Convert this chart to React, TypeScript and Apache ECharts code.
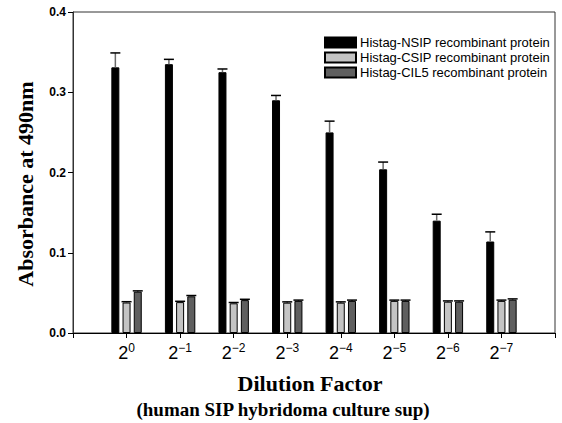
import React, { useEffect, useRef } from 'react';
import * as echarts from 'echarts';

// Data
const exponents = ['0', '−1', '−2', '−3', '−4', '−5', '−6', '−7'];
const seriesNames = [
  'Histag-NSIP recombinant protein',
  'Histag-CSIP recombinant protein',
  'Histag-CIL5 recombinant protein',
];
const nsip = [0.331, 0.335, 0.325, 0.29, 0.25, 0.204, 0.14, 0.114];
const nsipErr = [0.018, 0.006, 0.004, 0.006, 0.014, 0.009, 0.008, 0.012];
const csip = [0.038, 0.0385, 0.037, 0.0378, 0.0378, 0.04, 0.039, 0.04];
const csipErr = [0.001, 0.001, 0.001, 0.001, 0.001, 0.001, 0.001, 0.001];
const cil5 = [0.0515, 0.0457, 0.041, 0.04, 0.04, 0.04, 0.039, 0.0415];
const cil5Err = [0.001, 0.001, 0.001, 0.001, 0.001, 0.001, 0.001, 0.001];
const yMin = 0;
const yMax = 0.4;
const yInterval = 0.1;

const colors = ['#000000', '#c4c4c4', '#5f5f5f'];
const stemColors = ['#6a6a6a', '#333333', '#333333'];
const BAR_W = 8;
const GAP = 0.4;

export default function App() {
  const ref = useRef<HTMLDivElement>(null);
  useEffect(() => {
    if (!ref.current) return;
    const chart = echarts.init(ref.current, null, { renderer: 'svg' });
    const categories = ['', ...exponents, ''];
    const pad = (arr: number[]) => ['-', ...arr, '-'];
    const values = [nsip, csip, cil5];
    const errs = [nsipErr, csipErr, cil5Err];
    const step = BAR_W * (1 + GAP);
    const offsets = [-step, 0, step];

    const barSeries = values.map((vals, i) => ({
      name: seriesNames[i],
      type: 'bar',
      data: pad(vals),
      barWidth: BAR_W,
      barGap: GAP * 100 + '%',
      itemStyle: { color: colors[i], borderColor: '#000', borderWidth: 1 },
      emphasis: { disabled: true },
    }));

    const errSeries = values.map((vals, i) => ({
      name: 'err' + i,
      type: 'custom',
      data: vals.map((v, k) => [k + 1, v, errs[i][k]]),
      encode: { x: 0, y: 1 },
      z: 5,
      renderItem: (params: any, api: any) => {
        const idx = api.value(0);
        const v = api.value(1);
        const e = api.value(2);
        const base = api.coord([idx, v]);
        const top = api.coord([idx, v + e]);
        const x = base[0] + offsets[i];
        return {
          type: 'group',
          children: [
            {
              type: 'line',
              shape: { x1: x, y1: base[1], x2: x, y2: top[1] },
              style: { stroke: stemColors[i], lineWidth: 1.5 },
            },
            {
              type: 'line',
              shape: { x1: x - 5, y1: top[1], x2: x + 5, y2: top[1] },
              style: { stroke: '#000', lineWidth: 1.5 },
            },
          ],
        };
      },
    }));

    chart.setOption({
      animation: false,
      grid: {
        left: 73,
        right: 7,
        top: 12,
        bottom: 90,
        show: true,
        borderColor: '#333',
        borderWidth: 1,
        backgroundColor: 'transparent',
      },
      legend: {
        data: seriesNames,
        orient: 'vertical',
        left: 319,
        top: 31,
        icon: 'rect',
        itemWidth: 31,
        itemHeight: 10,
        itemGap: 2,
        selectedMode: false,
        textStyle: {
          fontSize: 13,
          fontFamily: 'Liberation Sans, Arial, sans-serif',
          color: '#000',
          padding: [0, 0, 0, -1],
        },
      },
      xAxis: {
        type: 'category',
        data: categories,
        boundaryGap: false,
        axisLine: { lineStyle: { color: '#000', width: 1 } },
        axisTick: { show: true, length: 5, lineStyle: { color: '#000' } },
        splitLine: { show: false },
        axisLabel: {
          interval: 0,
          margin: 9,
          formatter: (v: string) => (v ? `{b|2}{s|${v}}` : ''),
          rich: {
            b: { fontSize: 18, fontFamily: 'Liberation Sans, Arial, sans-serif', color: '#000' },
            s: {
              fontSize: 12,
              fontFamily: 'Liberation Sans, Arial, sans-serif',
              color: '#000',
              padding: [0, 0, 9, 0],
            },
          },
        },
      },
      yAxis: {
        type: 'value',
        min: yMin,
        max: yMax,
        interval: yInterval,
        axisLine: { show: true, lineStyle: { color: '#333', width: 1 } },
        axisTick: { show: true, length: 5, lineStyle: { color: '#000' } },
        splitLine: { show: false },
        axisLabel: {
          margin: 7,
          fontSize: 12,
          fontWeight: 'bold',
          fontFamily: 'Liberation Sans, Arial, sans-serif',
          color: '#000',
          formatter: (v: number) => v.toFixed(1),
        },
      },
      graphic: [
        {
          type: 'text',
          x: 25,
          y: 184,
          rotation: Math.PI / 2,
          style: {
            text: 'Absorbance at 490nm',
            font: 'bold 22px "Liberation Serif", "Times New Roman", serif',
            fill: '#000',
            align: 'center',
            verticalAlign: 'middle',
          },
        },
        {
          type: 'text',
          x: 310,
          y: 383,
          style: {
            text: 'Dilution Factor',
            font: 'bold 22px "Liberation Serif", "Times New Roman", serif',
            fill: '#000',
            align: 'center',
            verticalAlign: 'middle',
          },
        },
        {
          type: 'text',
          x: 283,
          y: 409,
          style: {
            text: '(human SIP hybridoma culture sup)',
            font: 'bold 19px "Liberation Serif", "Times New Roman", serif',
            fill: '#000',
            align: 'center',
            verticalAlign: 'middle',
          },
        },
      ],
      series: [...barSeries, ...errSeries],
    });
    return () => chart.dispose();
  }, []);

  return (
    <div
      ref={ref}
      style={{ position: 'absolute', left: 0, top: 0, width: 562, height: 423, background: '#fff' }}
    />
  );
}
